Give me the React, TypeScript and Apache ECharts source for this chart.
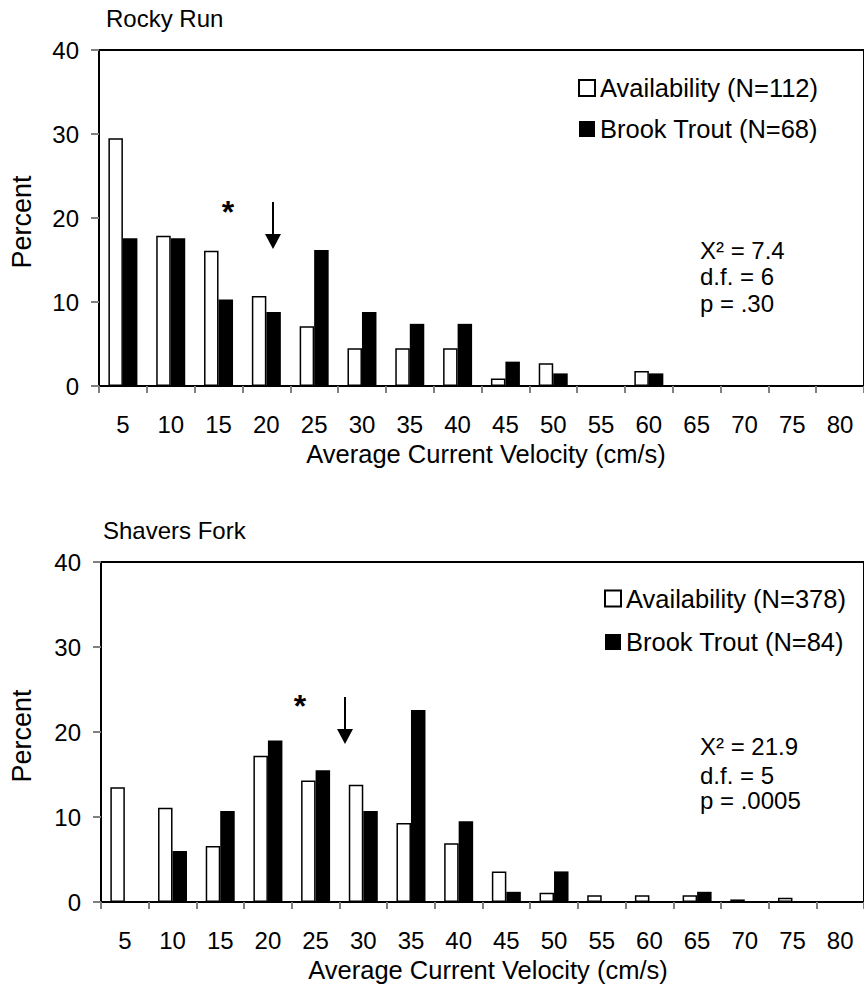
import React, { useEffect, useRef } from "react";
import * as echarts from "echarts";

const categories = ["5", "10", "15", "20", "25", "30", "35", "40", "45", "50", "55", "60", "65", "70", "75", "80"];
const rockyAvail = [29.5, 17.9, 16.1, 10.7, 7.1, 4.5, 4.5, 4.5, 0.9, 2.7, 0, 1.8, 0, 0, 0, 0];
const rockyTrout = [17.6, 17.6, 10.3, 8.8, 16.2, 8.8, 7.4, 7.4, 2.9, 1.5, 0, 1.5, 0, 0, 0, 0];
const shaversAvail = [13.5, 11.1, 6.6, 17.2, 14.3, 13.8, 9.3, 6.9, 3.6, 1.1, 0.8, 0.8, 0.8, 0.3, 0.5, 0];
const shaversTrout = [0, 6.0, 10.7, 19.0, 15.5, 10.7, 22.6, 9.5, 1.2, 3.6, 0, 0, 1.2, 0, 0, 0];

const rockyNames = ["Availability (N=112)", "Brook Trout (N=68)"];
const shaversNames = ["Availability (N=378)", "Brook Trout (N=84)"];
const rockyStats = ["X\u00b2 = 7.4", "d.f. = 6", "p = .30"];
const shaversStats = ["X\u00b2 = 21.9", "d.f. = 5", "p = .0005"];

const FONT = "'Liberation Sans', Arial, sans-serif";
const FS = 24;

function makeXAxis(gridIndex: number) {
  return {
    type: "category",
    gridIndex,
    data: categories,
    axisLine: { lineStyle: { color: "#000", width: 2 } },
    axisTick: { show: true, length: 7, lineStyle: { color: "#808080", width: 2 } },
    axisLabel: { color: "#000", fontSize: FS, fontFamily: FONT, margin: 26, interval: 0 },
    splitLine: { show: false },
  };
}

function makeYAxis(gridIndex: number) {
  return {
    type: "value",
    gridIndex,
    min: 0,
    max: 40,
    interval: 10,
    axisLine: { show: true, lineStyle: { color: "#000", width: 2 } },
    axisTick: { show: true, length: 8, lineStyle: { color: "#808080", width: 2 } },
    axisLabel: { color: "#000", fontSize: FS, fontFamily: FONT, margin: 20 },
    splitLine: { show: false },
  };
}

function txt(text: string, x: number, y: number, opts: any = {}) {
  return {
    type: "text",
    x,
    y,
    rotation: opts.rotation || 0,
    style: {
      text,
      fontSize: opts.fontSize || FS,
      fontFamily: FONT,
      fontWeight: opts.fontWeight || "normal",
      fill: "#000",
      textAlign: opts.align || "left",
      textVerticalAlign: "middle",
    },
  };
}

function arrow(x: number, y1: number, y2: number, tip: number) {
  return [
    { type: "line", shape: { x1: x, y1, x2: x, y2 }, style: { stroke: "#000", lineWidth: 2 } },
    {
      type: "polygon",
      shape: { points: [[x - 8, y2], [x + 8, y2], [x, tip]] },
      style: { fill: "#000" },
    },
  ];
}

export default function App() {
  const ref = useRef<HTMLDivElement>(null);
  useEffect(() => {
    if (!ref.current) return;
    const chart = echarts.init(ref.current, null, { renderer: "svg" });
    const availStyle = { color: "#fff", borderColor: "#000", borderWidth: 1.5 };
    const troutStyle = { color: "#000", borderColor: "#000", borderWidth: 0 };
    const legendBase = {
      orient: "vertical",
      icon: "rect",
      itemWidth: 16,
      itemHeight: 16,
      padding: 0,
      selectedMode: false,
      textStyle: { color: "#000", fontSize: 25.5, fontFamily: FONT },
    };
    const option: any = {
      animation: false,
      backgroundColor: "#fff",
      grid: [
        { left: 99, top: 50, width: 773, height: 336, show: true, borderColor: "#000", borderWidth: 2, backgroundColor: "transparent" },
        { left: 101, top: 562, width: 773, height: 340, show: true, borderColor: "#000", borderWidth: 2, backgroundColor: "transparent" },
      ],
      xAxis: [makeXAxis(0), makeXAxis(1)],
      yAxis: [makeYAxis(0), makeYAxis(1)],
      legend: [
        { ...legendBase, data: rockyNames, left: 578, top: 75, itemGap: 15 },
        { ...legendBase, data: shaversNames, left: 604, top: 585.5, itemGap: 17.5 },
      ],
      series: [
        { name: rockyNames[0], type: "bar", xAxisIndex: 0, yAxisIndex: 0, data: rockyAvail, barWidth: 14.5, barGap: "0%", itemStyle: availStyle },
        { name: rockyNames[1], type: "bar", xAxisIndex: 0, yAxisIndex: 0, data: rockyTrout, barWidth: 14.5, barGap: "0%", itemStyle: troutStyle },
        { name: shaversNames[0], type: "bar", xAxisIndex: 1, yAxisIndex: 1, data: shaversAvail, barWidth: 14.5, barGap: "0%", itemStyle: availStyle },
        { name: shaversNames[1], type: "bar", xAxisIndex: 1, yAxisIndex: 1, data: shaversTrout, barWidth: 14.5, barGap: "0%", itemStyle: troutStyle },
      ],
      graphic: [
        txt("Rocky Run", 106, 18.5),
        txt("Shavers Fork", 103, 530.5),
        txt("Percent", 22, 222, { rotation: Math.PI / 2, align: "center", fontSize: 27 }),
        txt("Percent", 22, 736, { rotation: Math.PI / 2, align: "center", fontSize: 27 }),
        txt("Average Current Velocity (cm/s)", 486, 454, { align: "center", fontSize: 25.5 }),
        txt("Average Current Velocity (cm/s)", 488, 970, { align: "center", fontSize: 25.5 }),
        txt(rockyStats[0], 700, 250),
        txt(rockyStats[1], 700, 276.5),
        txt(rockyStats[2], 700, 303),
        txt(shaversStats[0], 700, 746.5),
        txt(shaversStats[1], 700, 775),
        txt(shaversStats[2], 700, 800),
        txt("*", 228, 212, { fontSize: 32, fontWeight: "bold", align: "center" }),
        txt("*", 300, 706, { fontSize: 32, fontWeight: "bold", align: "center" }),
        ...arrow(273, 202, 234, 249),
        ...arrow(345, 697, 729, 744),
      ],
    };
    chart.setOption(option);
    return () => chart.dispose();
  }, []);
  return (
    <div
      ref={ref}
      style={{ position: "absolute", left: 0, top: 0, width: 864, height: 988 }}
    />
  );
}
